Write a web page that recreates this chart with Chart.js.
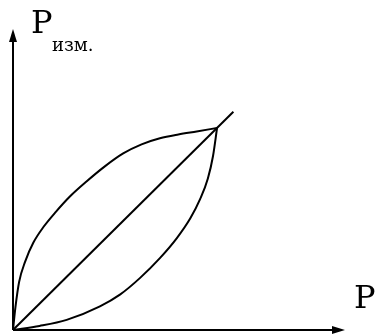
<!DOCTYPE html>
<html>
<head>
<meta charset="utf-8">
<script src="https://cdn.jsdelivr.net/npm/chart.js@4"></script>
<style>
  html, body { margin: 0; padding: 0; background: #fff; }
  #wrap { width: 378px; height: 336px; }
</style>
</head>
<body>
<div id="wrap"><canvas id="myChart" width="378" height="336"></canvas></div>
<script>
// значения (точка пересечения = 1,1)
const upperX = [0, 0.012, 0.030, 0.060, 0.100, 0.150, 0.210, 0.280, 0.360, 0.450, 0.540, 0.630, 0.720, 0.810, 0.900, 1];
const upperY = [0, 0.113, 0.238, 0.340, 0.433, 0.511, 0.585, 0.662, 0.735, 0.810, 0.874, 0.919, 0.949, 0.968, 0.983, 1];
const lowerX = [0, 0.130, 0.263, 0.426, 0.524, 0.623, 0.721, 0.803, 0.869, 0.918, 0.955, 0.980, 1];
const lowerY = [0, 0.020, 0.050, 0.117, 0.175, 0.258, 0.357, 0.455, 0.553, 0.650, 0.750, 0.860, 1];
const diagX = [0, 1.08];
const diagY = [0, 1.08];
const xMax = 1.627;
const yMax = 1.49;
const yLabel = 'P';
const yLabelSub = 'изм.';
const xLabel = 'P';

const serif = '"DejaVu Serif", "Liberation Serif", serif';
const toPoints = (xs, ys) => xs.map((x, i) => ({ x: x, y: ys[i] }));

//Оси со стрелками и подписи
const axesPlugin = {
  id: 'axesPlugin',
  afterDraw(chart) {
    const c = chart.ctx;
    const a = chart.chartArea;
    c.save();
    c.strokeStyle = '#000';
    c.fillStyle = '#000';
    c.lineWidth = 2;
    c.beginPath();
    c.moveTo(a.left, a.bottom);
    c.lineTo(a.left, a.top + 8);
    c.moveTo(a.left, a.bottom);
    c.lineTo(a.right - 8, a.bottom);
    c.stroke();
    // стрелки
    c.beginPath();
    c.moveTo(a.left, a.top);
    c.lineTo(a.left - 4, a.top + 13);
    c.lineTo(a.left + 4, a.top + 13);
    c.closePath();
    c.fill();
    c.beginPath();
    c.moveTo(a.right, a.bottom);
    c.lineTo(a.right - 13, a.bottom - 4);
    c.lineTo(a.right - 13, a.bottom + 4);
    c.closePath();
    c.fill();
    // подписи
    c.textBaseline = 'alphabetic';
    c.font = '32px ' + serif;
    c.fillText(yLabel, 31, 33);
    c.fillText(xLabel, 354, 308);
    c.font = '18px ' + serif;
    c.fillText(yLabelSub, 52, 51);
    c.restore();
  },
};

const lineStyle = {
  showLine: true,
  borderColor: '#000',
  borderWidth: 2,
  borderJoinStyle: 'round',
  pointRadius: 0,
  fill: false,
};

const ctx = document.getElementById('myChart');
new Chart(ctx, {
  type: 'scatter',
  data: {
    datasets: [
      Object.assign({ data: toPoints(upperX, upperY), cubicInterpolationMode: 'monotone' }, lineStyle),
      Object.assign({ data: toPoints(lowerX, lowerY), cubicInterpolationMode: 'monotone' }, lineStyle),
      Object.assign({ data: toPoints(diagX, diagY), tension: 0 }, lineStyle),
    ],
  },
  options: {
    responsive: false,
    animation: false,
    layout: { padding: { left: 13, right: 33, top: 29, bottom: 6 } },
    plugins: { legend: { display: false }, tooltip: { enabled: false } },
    scales: {
      x: { type: 'linear', min: 0, max: xMax, display: false },
      y: { type: 'linear', min: 0, max: yMax, display: false },
    },
  },
  plugins: [axesPlugin],
});
</script>
</body>
</html>
